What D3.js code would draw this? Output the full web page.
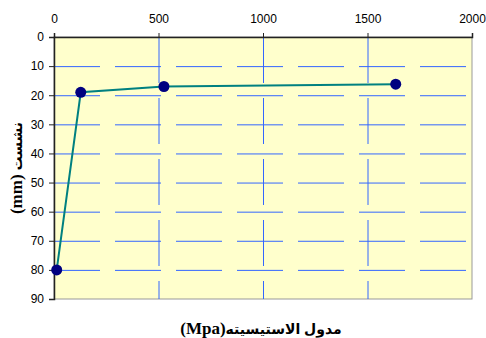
<!DOCTYPE html>
<html><head><meta charset="utf-8">
<script src="https://cdn.jsdelivr.net/npm/d3@7"></script>
<style>body{margin:0;background:#fff}svg{display:block}text{font-family:"Liberation Sans",Arial,"DejaVu Sans",sans-serif}</style>
</head><body><svg id="c" width="486" height="338"></svg>
<script>
const modulus = [13, 128, 526, 1635];
const settlement = [80, 19, 17, 16.2];
const xTicks = [0, 500, 1000, 1500, 2000];
const yTicks = [0, 10, 20, 30, 40, 50, 60, 70, 80, 90];
const xTitleLatin = "(Mpa)";
const xTitleArabic = "مدول الاستيسيته";
const yTitleLatin = "(mm)";
const yTitleArabic = "نشست";

const svg = d3.select("#c");
const L = 54, R = 472, T = 37, B = 299;
const x = d3.scaleLinear().domain([0, 2000]).range([L, R]);
const y = d3.scaleLinear().domain([0, 90]).range([T, B]);

svg.append("rect").attr("x", L).attr("y", T).attr("width", R - L).attr("height", B - T)
  .attr("fill", "#FFFFCC").attr("stroke", "#999").attr("stroke-width", 1);

const grid = svg.append("g").attr("stroke", "#3366FF").attr("stroke-width", 1).attr("stroke-dasharray", "46,15");
grid.selectAll("line.h").data(yTicks.slice(1, -1)).join("line").attr("class", "h")
  .attr("x1", L).attr("x2", R).attr("y1", d => y(d) + 0.5).attr("y2", d => y(d) + 0.5);
grid.selectAll("line.v").data(xTicks.slice(1, -1)).join("line").attr("class", "v")
  .attr("y1", T).attr("y2", B).attr("x1", d => x(d) + 0.5).attr("x2", d => x(d) + 0.5);

const xAxis = svg.append("g").attr("transform", `translate(0,${T})`)
  .call(d3.axisTop(x).tickValues(xTicks).tickFormat(d3.format("d")).tickSize(4).tickPadding(10));
const yAxis = svg.append("g").attr("transform", `translate(${L},0)`)
  .call(d3.axisLeft(y).tickValues(yTicks).tickFormat(d3.format("d")).tickSize(5).tickPadding(5));
[xAxis, yAxis].forEach(g => {
  g.select(".domain").attr("stroke", "#222").attr("stroke-width", 1.5);
  g.selectAll(".tick line").attr("stroke", "#222");
  g.selectAll(".tick text").attr("font-size", 12).attr("fill", "#000");
});

const line = d3.line().x((d, i) => x(modulus[i])).y(d => y(d));
svg.append("path").datum(settlement).attr("d", line).attr("fill", "none")
  .attr("stroke", "#008080").attr("stroke-width", 2);
svg.selectAll("circle.p").data(settlement).join("circle").attr("class", "p")
  .attr("cx", (d, i) => x(modulus[i])).attr("cy", d => y(d)).attr("r", 5.5).attr("fill", "#000080");

const xt = svg.append("text").attr("x", 261).attr("y", 334).attr("text-anchor", "middle")
  .attr("font-size", 14).attr("font-weight", "bold");
xt.append("tspan").attr("font-family", "Liberation Serif, Times New Roman, serif").attr("font-size", 17).text(xTitleLatin);
xt.append("tspan").text(xTitleArabic);
const yt = svg.append("text").attr("transform", `translate(22,${(T + B) / 2}) rotate(-90)`).attr("text-anchor", "middle")
  .attr("font-size", 14).attr("font-weight", "bold");
yt.append("tspan").attr("font-family", "Liberation Serif, Times New Roman, serif").attr("font-size", 17).text(yTitleLatin);
yt.append("tspan").text(" " + yTitleArabic);
</script></body></html>
